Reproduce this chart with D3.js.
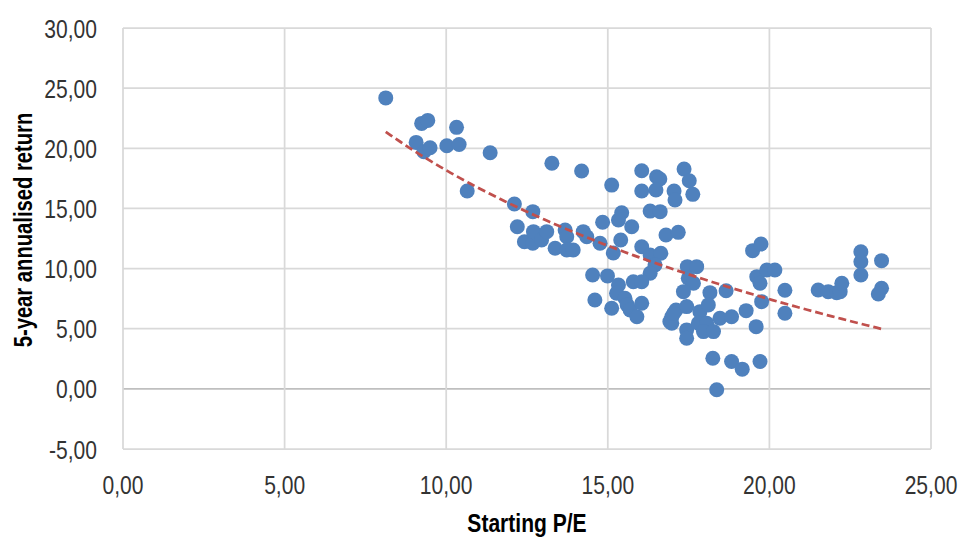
<!DOCTYPE html>
<html>
<head>
<meta charset="utf-8">
<script src="https://cdn.jsdelivr.net/npm/d3@7"></script>
<style>
  body { margin: 0; background: #fff; }
  svg text { font-family: "Liberation Sans", Arial, sans-serif; }
</style>
</head>
<body>
<svg id="chart" width="960" height="537"></svg>
<script>
// starting P/E values
const pe = [
  8.13, 9.24, 9.43, 10.32, 9.07, 9.31, 9.50, 10.02, 10.40, 11.36,
  10.65, 12.11, 12.68, 12.20, 12.42, 12.68, 12.70, 12.95, 13.11, 13.37,
  13.68, 13.73, 13.73, 13.93, 14.24, 14.35, 14.76, 14.84, 15.17, 14.53,
  14.99, 13.27, 14.19, 15.12, 16.05, 16.51, 16.61, 17.36, 17.52, 17.63,
  16.05, 16.49, 17.05, 17.08, 16.31, 16.62, 15.43, 15.33, 15.74, 16.80,
  17.18, 15.40, 16.05, 16.31, 16.64, 17.46, 17.75, 16.46, 16.31, 17.49,
  17.65, 15.33, 15.79, 16.05, 17.34, 18.16, 18.66, 14.60, 15.27, 15.53,
  15.60, 15.12, 15.69, 15.90, 16.05, 17.11, 17.44, 16.98, 16.98, 17.44,
  17.44, 17.85, 18.11, 17.80, 18.06, 17.96, 18.27, 18.47, 18.83, 19.28,
  19.59, 18.25, 18.83, 19.16, 19.71, 18.37, 19.48, 19.74, 19.61, 19.71,
  19.92, 20.17, 19.76, 20.48, 20.48, 21.51, 21.82, 22.08, 22.19, 22.24,
  22.83, 22.83, 22.83, 23.47, 23.47, 23.37, 16.92, 17.04
];
// 5-year annualised return
const ret = [
  24.19, 22.07, 22.32, 21.74, 20.49, 19.71, 20.04, 20.21, 20.32, 19.63,
  16.45, 15.37, 14.73, 13.48, 12.23, 12.10, 13.07, 12.38, 13.07, 11.69,
  13.21, 12.65, 11.54, 11.54, 13.07, 12.65, 12.10, 13.85, 11.30, 9.47,
  9.39, 18.75, 18.11, 16.94, 18.13, 17.63, 17.45, 18.27, 17.30, 16.17,
  16.45, 16.53, 16.45, 15.70, 14.78, 14.73, 14.64, 14.04, 13.48, 12.79,
  13.01, 12.38, 11.82, 11.13, 11.27, 10.16, 10.16, 10.30, 9.61, 9.19,
  8.78, 8.64, 8.91, 8.91, 8.08, 8.00, 8.16, 7.39, 7.95, 7.53,
  6.98, 6.70, 6.56, 6.00, 7.12, 6.56, 6.84, 6.00, 5.46, 4.90,
  4.21, 6.42, 6.98, 5.46, 5.46, 4.76, 4.76, 5.87, 6.00, 6.50,
  5.17, 2.55, 2.27, 1.64, 2.27, -0.08, 11.49, 12.04, 9.33, 8.78,
  9.88, 9.88, 7.25, 8.20, 6.29, 8.22, 8.08, 8.00, 8.08, 8.78,
  11.40, 10.57, 9.47, 10.66, 8.36, 7.89, 5.59, 6.29
];
// logarithmic trendline: y = a + b * ln(x)
const trendCoef = [53.77, -15.46];

const xTicks = [0, 5, 10, 15, 20, 25];
const yTicks = [-5, 0, 5, 10, 15, 20, 25, 30];

const svg = d3.select('#chart');
const margin = { left: 123, right: 29, top: 28, bottom: 88 };
const W = 960, H = 537;
const narrow = 0.81; // squeeze text horizontally to get a condensed look

const x = d3.scaleLinear().domain([0, 25]).range([margin.left, W - margin.right]);
const y = d3.scaleLinear().domain([-5, 30]).range([H - margin.bottom, margin.top]);

const locale = d3.formatLocale({ decimal: ',', thousands: '.', grouping: [3], currency: ['', ''], minus: '-' });
const fmt = locale.format('.2f');

// gridlines
const grid = svg.append('g');
grid.selectAll('line.h').data(yTicks).join('line')
  .attr('x1', x(0)).attr('x2', x(25))
  .attr('y1', d => y(d)).attr('y2', d => y(d))
  .attr('stroke', d => d === 0 ? '#bfbfbf' : '#d9d9d9')
  .attr('stroke-width', 1.75);
grid.selectAll('line.v').data(xTicks).join('line')
  .attr('y1', y(-5)).attr('y2', y(30))
  .attr('x1', d => x(d)).attr('x2', d => x(d))
  .attr('stroke', '#d9d9d9')
  .attr('stroke-width', 1.75);

// tick labels
svg.append('g').selectAll('text').data(yTicks).join('text')
  .attr('transform', d => `translate(97,${y(d) + 9.5}) scale(${narrow},1)`)
  .attr('text-anchor', 'end')
  .attr('font-size', 26).attr('fill', '#333')
  .text(d => fmt(d));
svg.append('g').selectAll('text').data(xTicks).join('text')
  .attr('transform', d => `translate(${x(d)},494) scale(${narrow},1)`)
  .attr('text-anchor', 'middle')
  .attr('font-size', 26).attr('fill', '#333')
  .text(d => fmt(d));

// axis titles
svg.append('text')
  .attr('transform', `translate(${(x(0) + x(25)) / 2},532) scale(${narrow},1)`)
  .attr('text-anchor', 'middle')
  .attr('font-size', 26).attr('font-weight', 'bold').attr('fill', '#000')
  .text('Starting P/E');
svg.append('text')
  .attr('transform', `translate(32,230) rotate(-90) scale(${narrow * 0.96},1)`)
  .attr('text-anchor', 'middle')
  .attr('font-size', 26).attr('font-weight', 'bold').attr('fill', '#000')
  .text('5-year annualised return');

// points
const pts = pe.map((d, i) => ({ pe: d, ret: ret[i] }));
svg.append('g').selectAll('circle').data(pts).join('circle')
  .attr('cx', d => x(d.pe))
  .attr('cy', d => y(d.ret))
  .attr('r', 7.5)
  .attr('fill', '#4f81bd');

// trendline
const [xmin, xmax] = d3.extent(pe);
const trendPts = d3.range(0, 101).map(i => {
  const px = xmin + (xmax - xmin) * i / 100;
  return [px, trendCoef[0] + trendCoef[1] * Math.log(px)];
});
svg.append('path')
  .datum(trendPts)
  .attr('fill', 'none')
  .attr('stroke', '#c0504d')
  .attr('stroke-width', 2.75)
  .attr('stroke-dasharray', '8,4')
  .attr('d', d3.line().x(d => x(d[0])).y(d => y(d[1])));
</script>
</body>
</html>
